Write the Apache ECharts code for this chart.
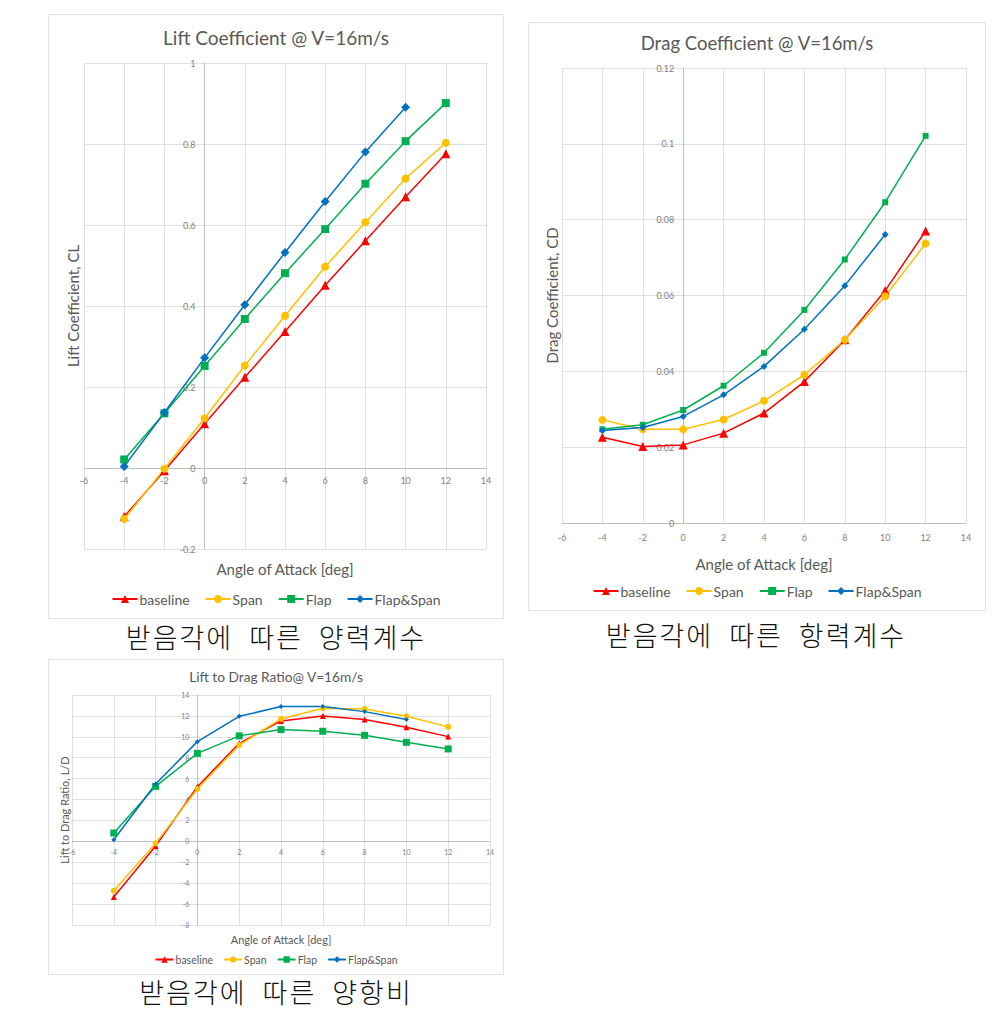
<!DOCTYPE html>
<html>
<head>
<meta charset="utf-8">
<script src="https://cdn.jsdelivr.net/npm/echarts@6/dist/echarts.min.js"></script>
<style>
html,body{margin:0;padding:0;background:#fff;width:994px;height:1014px;overflow:hidden;}
.panel{position:absolute;border:1px solid #e3e3e3;box-sizing:border-box;background:#fff;}
.cap{position:absolute;font-family:"Noto Sans CJK KR";font-weight:300;font-size:27px;color:#111;white-space:nowrap;transform:translateX(-50%);letter-spacing:2px;word-spacing:8px;line-height:1;}
</style>
</head>
<body>
<div id="p1" class="panel" style="left:48px;top:14px;width:456px;height:605px;"></div>
<div id="p2" class="panel" style="left:528px;top:22px;width:458px;height:589px;"></div>
<div id="p3" class="panel" style="left:48px;top:659px;width:456px;height:316px;"></div>
<div class="cap" style="left:276px;top:623px;">받음각에 따른 양력계수</div>
<div class="cap" style="left:756px;top:621px;">받음각에 따른 항력계수</div>
<div class="cap" style="left:276px;top:978px;">받음각에 따른 양항비</div>
<script>
// ---- data ----
const angles = [-4, -2, 0, 2, 4, 6, 8, 10, 12];
const seriesNames = ['baseline', 'Span', 'Flap', 'Flap&Span'];

const liftBaseline = [-0.120, -0.007, 0.109, 0.224, 0.337, 0.451, 0.561, 0.670, 0.776];
const liftSpan     = [-0.126, -0.002, 0.123, 0.253, 0.376, 0.497, 0.607, 0.715, 0.803];
const liftFlap     = [0.021, 0.135, 0.252, 0.368, 0.481, 0.590, 0.702, 0.807, 0.901];
const liftFlapSpan = [0.004, 0.137, 0.272, 0.403, 0.532, 0.658, 0.780, 0.891];

const dragBaseline = [0.0226, 0.0202, 0.0206, 0.0237, 0.0290, 0.0373, 0.0483, 0.0613, 0.0770];
const dragSpan     = [0.0272, 0.0247, 0.0247, 0.0273, 0.0322, 0.0391, 0.0483, 0.0598, 0.0737];
const dragFlap     = [0.0247, 0.0259, 0.0298, 0.0362, 0.0449, 0.0562, 0.0695, 0.0846, 0.1021];
const dragFlapSpan = [0.0244, 0.0252, 0.0281, 0.0338, 0.0413, 0.0511, 0.0626, 0.0761];

const ldBaseline = [-5.32, -0.44, 5.23, 9.38, 11.52, 12.00, 11.65, 10.91, 10.02];
const ldSpan     = [-4.72, -0.19, 5.01, 9.22, 11.71, 12.73, 12.67, 11.96, 10.95];
const ldFlap     = [0.80, 5.26, 8.42, 10.09, 10.69, 10.53, 10.14, 9.47, 8.84];
const ldFlapSpan = [0.16, 5.49, 9.54, 11.96, 12.89, 12.89, 12.41, 11.65];

const colors = ['#ff0000', '#ffc000', '#00b050', '#0070c0'];
const symbols = ['triangle', 'circle', 'rect', 'diamond'];

const X_MIN = -6, X_MAX = 14, X_INT = 2;

function pairs(vals) { return vals.map((v, i) => [angles[i], v]); }

const FONT = 'Lato';

function makeOption(cfg) {
  const gw = cfg.grid[2], gh = cfg.grid[3];
  // place the axes where the other axis is zero (Excel "axis crosses at 0")
  const xAxisOffset = -((0 - cfg.ymin) / (cfg.ymax - cfg.ymin)) * gh;
  const yAxisOffset = -((0 - X_MIN) / (X_MAX - X_MIN)) * gw;
  const series = cfg.data.map((vals, i) => ({
    name: seriesNames[i],
    type: 'line',
    data: pairs(vals),
    symbol: symbols[i],
    symbolSize: cfg.sym[i],
    lineStyle: { color: colors[i], width: cfg.lw },
    itemStyle: { color: colors[i] },
    emphasis: { disabled: true },
    animation: false,
    z: 3
  }));
  return {
    animation: false,
    textStyle: { fontFamily: FONT },
    title: {
      text: cfg.title, left: 'center', top: cfg.titleTop,
      textStyle: { fontFamily: FONT, fontSize: cfg.titleSize, fontWeight: 'normal', color: '#595959' }
    },
    legend: {
      data: seriesNames, left: 'center', top: cfg.legendTop,
      itemWidth: cfg.legW, itemHeight: cfg.legH, itemGap: cfg.legGap,
      textStyle: { fontFamily: FONT, fontSize: cfg.legSize, color: '#595959', padding: [0, 0, 0, -3] },
      selectedMode: false
    },
    grid: { left: cfg.grid[0], top: cfg.grid[1], width: gw, height: gh, containLabel: false, outerBoundsMode: 'none' },
    xAxis: {
      type: 'value', min: X_MIN, max: X_MAX, interval: X_INT,
      position: 'bottom', offset: xAxisOffset,
      name: 'Angle of Attack [deg]', nameLocation: 'middle', nameGap: cfg.xNameGap,
      nameTextStyle: { fontFamily: FONT, fontSize: cfg.nameSize, color: '#595959' },
      axisLine: { show: true, onZero: false, lineStyle: { color: '#bfbfbf', width: 1 } },
      axisTick: { show: false },
      axisLabel: { fontFamily: FONT, fontSize: cfg.tickSize, color: '#7f7f7f', margin: cfg.xMargin, showMinLabel: true, showMaxLabel: true },
      splitLine: { show: true, lineStyle: { color: '#e0e0e0', width: 1 } }
    },
    yAxis: {
      type: 'value', min: cfg.ymin, max: cfg.ymax, interval: cfg.yint,
      position: 'left', offset: yAxisOffset,
      name: cfg.yName, nameLocation: 'middle', nameGap: cfg.yNameGap, nameRotate: 90,
      nameTextStyle: { fontFamily: FONT, fontSize: cfg.nameSize, color: '#595959' },
      axisLine: { show: true, onZero: false, lineStyle: { color: '#bfbfbf', width: 1 } },
      axisTick: { show: false },
      axisLabel: { fontFamily: FONT, fontSize: cfg.tickSize, color: '#7f7f7f', margin: cfg.yMargin, showMinLabel: true, showMaxLabel: true },
      splitLine: { show: true, lineStyle: { color: '#e0e0e0', width: 1 } }
    },
    series: series
  };
}

const c1 = echarts.init(document.getElementById('p1'), null, { renderer: 'svg' });
c1.setOption(makeOption({
  title: 'Lift Coefficient @ V=16m/s', titleTop: 8, titleSize: 19,
  legendTop: 572, legW: 25, legH: 10, legGap: 15, legSize: 14,
  grid: [35, 48, 402, 486],
  xNameGap: 93, yNameGap: 124, nameSize: 15, tickSize: 9, xMargin: 8, yMargin: 9,
  ymin: -0.2, ymax: 1, yint: 0.2, yName: 'Lift Coefficient, CL',
  data: [liftBaseline, liftSpan, liftFlap, liftFlapSpan],
  sym: [9, 8, 8, 9], lw: 1.5
}));

const c2 = echarts.init(document.getElementById('p2'), null, { renderer: 'svg' });
c2.setOption(makeOption({
  title: 'Drag Coefficient @ V=16m/s', titleTop: 5, titleSize: 18.5,
  legendTop: 556, legW: 25, legH: 10, legGap: 15, legSize: 14,
  grid: [33, 45, 404, 455],
  xNameGap: 33, yNameGap: 124, nameSize: 15, tickSize: 9, xMargin: 10, yMargin: 9,
  ymin: 0, ymax: 0.12, yint: 0.02, yName: 'Drag Coefficient, CD',
  data: [dragBaseline, dragSpan, dragFlap, dragFlapSpan],
  sym: [9, 8, 6, 7], lw: 1.5
}));

const c3 = echarts.init(document.getElementById('p3'), null, { renderer: 'svg' });
c3.setOption(makeOption({
  title: 'Lift to Drag Ratio@ V=16m/s', titleTop: 4, titleSize: 13.7,
  legendTop: 289, legW: 18, legH: 8, legGap: 10, legSize: 10.5,
  grid: [23, 35, 418, 230],
  xNameGap: 93, yNameGap: 127, nameSize: 11, tickSize: 7, xMargin: 7, yMargin: 8,
  ymin: -8, ymax: 14, yint: 2, yName: 'Lift to Drag Ratio, L/D',
  data: [ldBaseline, ldSpan, ldFlap, ldFlapSpan],
  sym: [6, 6, 7, 5], lw: 1.5
}));
</script>
</body>
</html>
